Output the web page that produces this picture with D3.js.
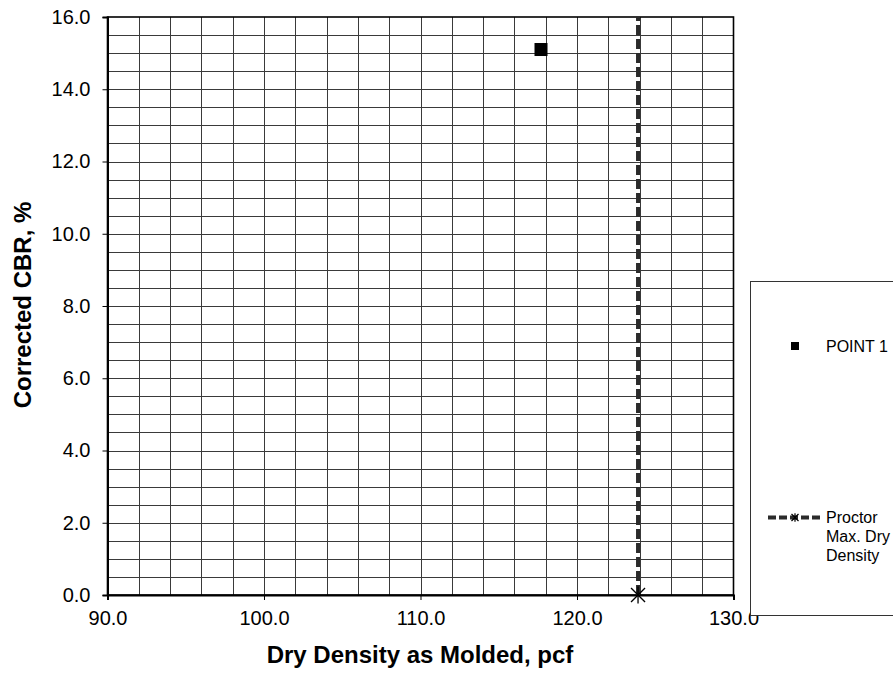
<!DOCTYPE html>
<html><head><meta charset="utf-8">
<script src="https://cdn.jsdelivr.net/npm/d3@7"></script>
<style>body{margin:0;background:#fff}svg{display:block}text{font-family:"Liberation Sans",Arial,sans-serif}</style>
</head><body>
<svg id="c" width="893" height="673"></svg>
<script>
// data
const pointSeries = [{x: 117.7, y: 15.1}];
const proctorX = [123.9, 123.9];
const proctorY = [0, 16];
const xTicks = [90, 100, 110, 120, 130];
const yTicks = [0, 2, 4, 6, 8, 10, 12, 14, 16];
const legendLabels = ["POINT 1", ["Proctor", "Max. Dry", "Density"]];

const svg = d3.select("#c");
const L = 107.5, R = 733.5, T = 17, B = 595;
const x = d3.scaleLinear().domain([90, 130]).range([L, R]);
const y = d3.scaleLinear().domain([0, 16]).range([B, T]);

// grid
const g = svg.append("g");
g.selectAll("line.v").data(d3.range(92, 130, 2)).join("line")
  .attr("x1", d => Math.round(x(d)) + 0.5).attr("x2", d => Math.round(x(d)) + 0.5)
  .attr("y1", T).attr("y2", B).attr("stroke", "#3a3a3a").attr("stroke-width", 1);
g.selectAll("line.h").data(d3.range(0.5, 16, 0.5)).join("line")
  .attr("y1", d => Math.round(y(d)) + 0.5).attr("y2", d => Math.round(y(d)) + 0.5)
  .attr("x1", L).attr("x2", R).attr("stroke", "#3a3a3a").attr("stroke-width", 1);

// border
svg.append("rect").attr("x", L).attr("y", T).attr("width", R - L).attr("height", B - T)
  .attr("fill", "none").attr("stroke", "#000").attr("stroke-width", 1.6);

// axes
const yAxis = d3.axisLeft(y).tickValues(yTicks).tickSize(5).tickPadding(12).tickFormat(d3.format(".1f"));
const ya = svg.append("g").attr("transform", `translate(${L},0)`).call(yAxis);
const xAxis = d3.axisBottom(x).tickValues(xTicks).tickSize(5).tickPadding(11).tickFormat(d3.format(".1f"));
const xa = svg.append("g").attr("transform", `translate(0,${B})`).call(xAxis);
[ya, xa].forEach(a => {
  a.select(".domain").attr("stroke", "#000").attr("stroke-width", 2);
  a.selectAll(".tick line").attr("stroke", "#000").attr("stroke-width", 1);
  a.selectAll(".tick text").attr("font-size", 20).attr("fill", "#000")
    .attr("font-family", '"Liberation Sans",Arial,sans-serif');
});

// proctor line
const line = d3.line().x(d => x(d[0])).y(d => y(d[1]));
svg.append("path").datum(d3.zip(proctorX, proctorY)).attr("d", line)
  .attr("fill", "none").attr("stroke", "#2b2b2b").attr("stroke-width", 4)
  .attr("stroke-dasharray", "10,4");

function star(sel, cx, cy, r, w) {
  const s = sel.append("g").attr("stroke", "#000").attr("stroke-width", w);
  s.append("line").attr("x1", cx - r).attr("y1", cy - r).attr("x2", cx + r).attr("y2", cy + r);
  s.append("line").attr("x1", cx - r).attr("y1", cy + r).attr("x2", cx + r).attr("y2", cy - r);
  s.append("line").attr("x1", cx).attr("y1", cy - r * 1.2).attr("x2", cx).attr("y2", cy + r * 1.2);
}
star(svg, x(proctorX[0]), y(proctorY[0]), 7, 1.3);

// point
svg.selectAll("rect.pt").data(pointSeries).join("rect")
  .attr("x", d => x(d.x) - 6.5).attr("y", d => y(d.y) - 6.5)
  .attr("width", 13).attr("height", 13).attr("fill", "#000");

// axis titles
svg.append("text").attr("x", 420).attr("y", 663).attr("text-anchor", "middle")
  .attr("font-size", 24).attr("font-weight", "bold").text("Dry Density as Molded, pcf");
svg.append("text").attr("transform", "translate(31,305) rotate(-90)").attr("text-anchor", "middle")
  .attr("font-size", 24).attr("font-weight", "bold").text("Corrected CBR, %");

// legend
const lg = svg.append("g");
lg.append("rect").attr("x", 750.5).attr("y", 281.5).attr("width", 160).attr("height", 334)
  .attr("fill", "#fff").attr("stroke", "#333").attr("stroke-width", 1);
lg.append("rect").attr("x", 791).attr("y", 342).attr("width", 8).attr("height", 8).attr("fill", "#000");
lg.append("text").attr("x", 826).attr("y", 352).attr("font-size", 16).text(legendLabels[0]);
lg.append("line").attr("x1", 768).attr("x2", 822).attr("y1", 517.5).attr("y2", 517.5)
  .attr("stroke", "#2b2b2b").attr("stroke-width", 4).attr("stroke-dasharray", "8,3");
star(lg, 795, 517.5, 3.5, 1.2);
const t2 = lg.append("text").attr("x", 826).attr("y", 523).attr("font-size", 16);
legendLabels[1].forEach((s, i) => t2.append("tspan").attr("x", 826).attr("dy", i ? 19 : 0).text(s));
</script>
</body></html>
